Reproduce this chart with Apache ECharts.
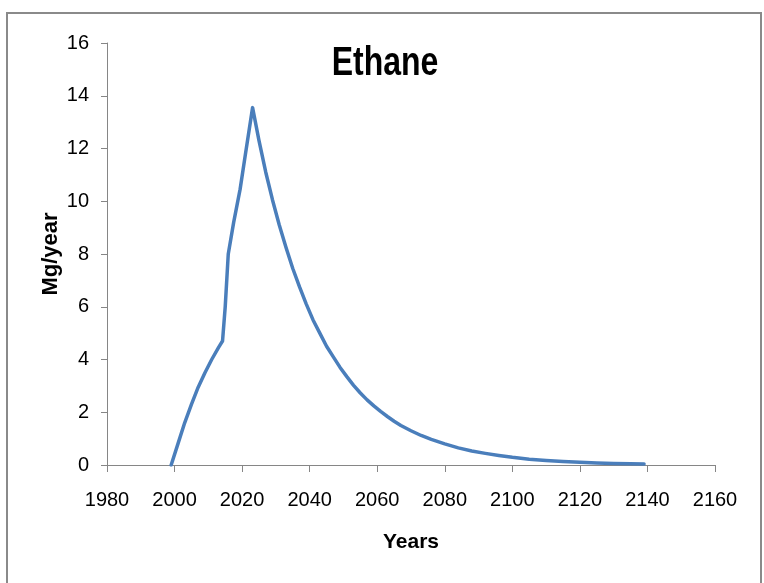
<!DOCTYPE html>
<html>
<head>
<meta charset="utf-8">
<script src="https://cdn.jsdelivr.net/npm/echarts@6/dist/echarts.min.js"></script>
<style>
html,body{margin:0;padding:0;background:#fff;}
#chart{width:764px;height:583px;}
</style>
</head>
<body>
<div id="chart"></div>
<script>
// Data
const titleText = "Ethane";
const xAxisTitle = "Years";
const yAxisTitle = "Mg/year";
const years = [1999, 2001, 2003, 2005, 2007, 2009, 2011, 2013, 2014.2, 2015, 2015.9, 2017.5, 2019.4, 2021, 2023.1,
  2025, 2027, 2029, 2031, 2033, 2035, 2037, 2039, 2041, 2043, 2045, 2047, 2049, 2051, 2053, 2055, 2057, 2059,
  2061, 2063, 2065, 2067, 2070, 2073, 2076, 2080, 2084, 2088, 2092, 2096, 2100, 2105, 2110, 2115, 2120,
  2125, 2130, 2135, 2139];
const ethane = [0, 0.8, 1.6, 2.3, 2.95, 3.5, 4.0, 4.45, 4.7, 6.0, 8.0, 9.2, 10.45, 11.8, 13.55,
  12.3, 11.1, 10.05, 9.1, 8.25, 7.45, 6.75, 6.1, 5.5, 5.0, 4.5, 4.1, 3.7, 3.35, 3.02, 2.73, 2.47, 2.24,
  2.03, 1.84, 1.66, 1.5, 1.3, 1.12, 0.97, 0.8, 0.65, 0.53, 0.44, 0.36, 0.29, 0.22, 0.17, 0.13, 0.1,
  0.08, 0.06, 0.05, 0.04];
const xMin = 1980, xMax = 2160, xStep = 20;
const yMin = 0, yMax = 16, yStep = 2;

const chart = echarts.init(document.getElementById('chart'), null, {renderer: 'canvas'});
const font = '"Liberation Sans", "DejaVu Sans", sans-serif';
const axisGray = '#868686';

chart.setOption({
  animation: false,
  backgroundColor: '#ffffff',
  graphic: [{
    type: 'rect',
    shape: {x: 7, y: 13, width: 754, height: 600},
    style: {fill: 'none', stroke: '#8a8a8a', lineWidth: 2},
    silent: true, z: -1
  }, {
    type: 'text',
    x: 385, y: 64, scaleX: 0.78,
    style: {text: titleText, font: 'bold 41px ' + font, fill: '#000',
      align: 'center', verticalAlign: 'middle'}
  }],
  grid: {left: 107, right: 49, top: 43, bottom: 118, containLabel: false},
  xAxis: {
    type: 'value', min: xMin, max: xMax, interval: xStep,
    name: xAxisTitle, nameLocation: 'middle', nameGap: 67, nameMoveOverlap: false,
    nameTextStyle: {fontFamily: font, fontWeight: 'bold', fontSize: 21, color: '#000'},
    axisLine: {show: true, onZero: false, lineStyle: {color: axisGray, width: 1}},
    axisTick: {show: true, inside: false, length: 7, lineStyle: {color: axisGray}},
    axisLabel: {margin: 25, fontFamily: font, fontSize: 20, color: '#000',
      formatter: v => String(v)},
    splitLine: {show: false}
  },
  yAxis: {
    type: 'value', min: yMin, max: yMax, interval: yStep,
    name: yAxisTitle, nameLocation: 'middle', nameGap: 45, nameRotate: 90, nameMoveOverlap: false,
    nameTextStyle: {fontFamily: font, fontWeight: 'bold', fontSize: 22, color: '#000'},
    axisLine: {show: true, lineStyle: {color: axisGray, width: 1}},
    axisTick: {show: true, inside: false, length: 6, lineStyle: {color: axisGray}},
    axisLabel: {margin: 18, fontFamily: font, fontSize: 20, color: '#000'},
    splitLine: {show: false}
  },
  series: [{
    type: 'line',
    data: years.map((y, i) => [y, ethane[i]]),
    showSymbol: false,
    smooth: false,
    lineStyle: {color: '#4a7ebb', width: 3.5, cap: 'round', join: 'round'},
    itemStyle: {color: '#4a7ebb'}
  }]
});
</script>
</body>
</html>
